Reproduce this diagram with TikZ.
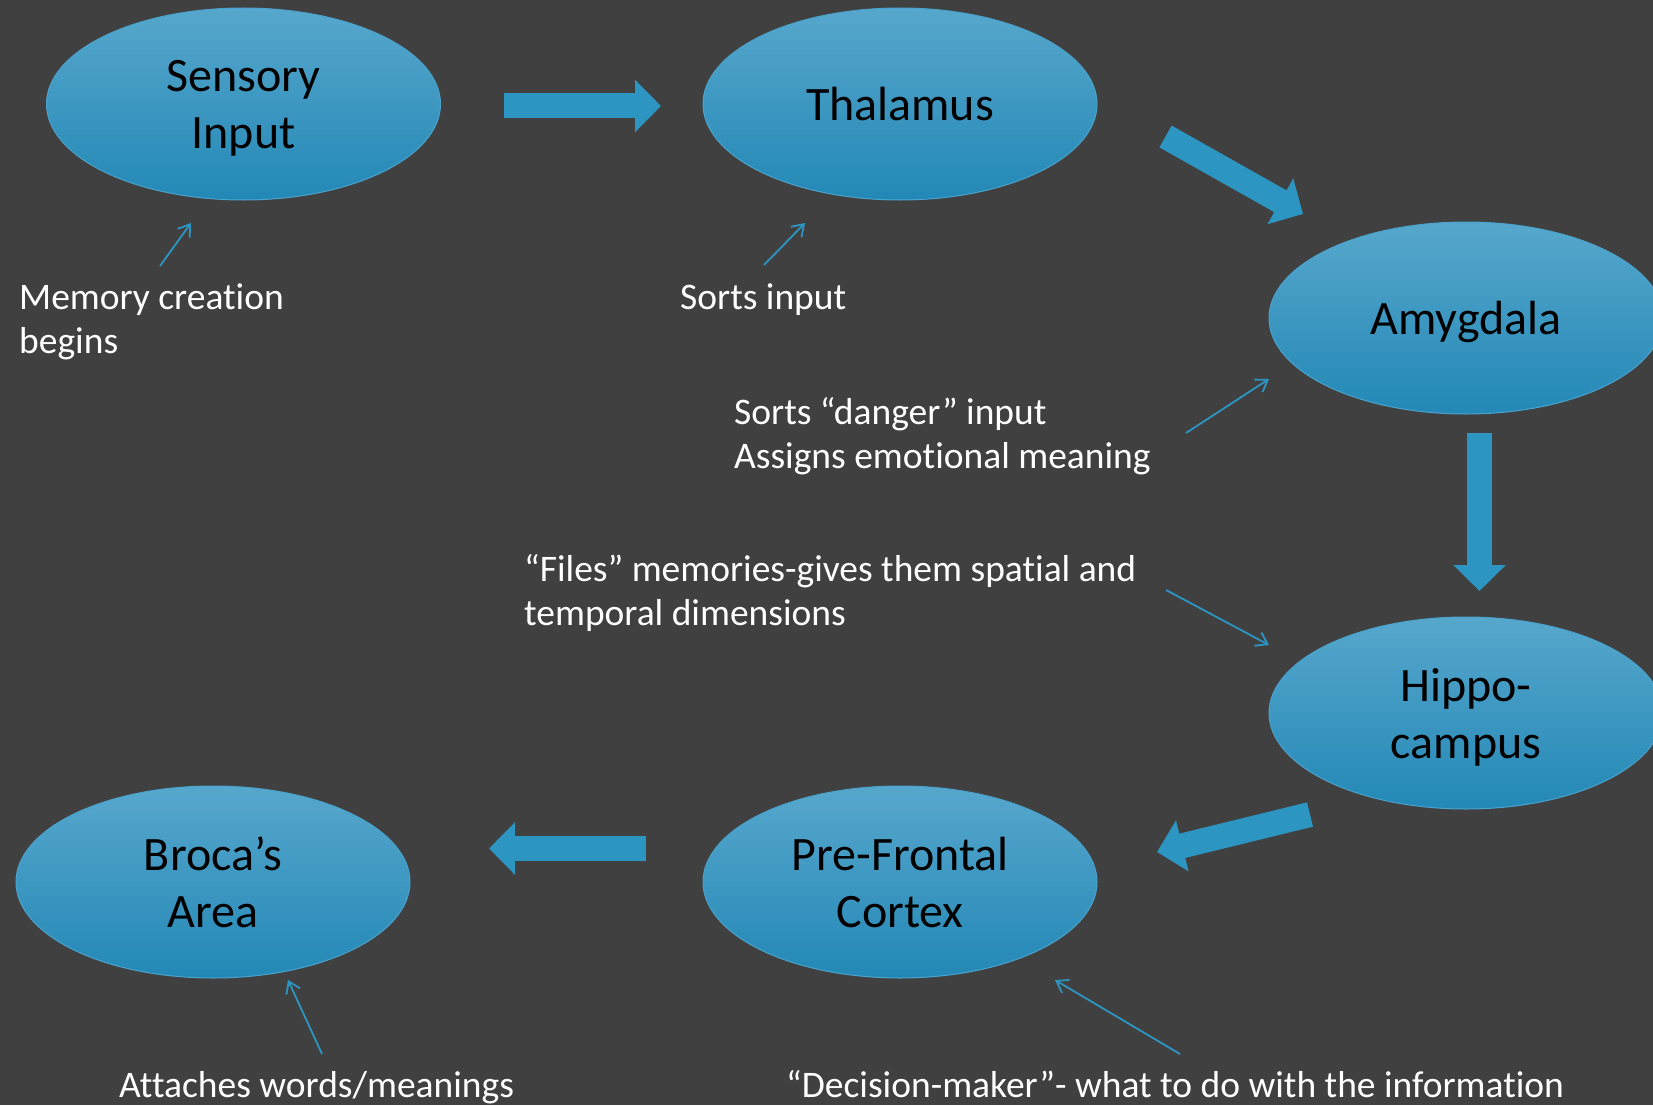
\documentclass[tikz,border=0pt]{standalone}
\usepackage{fontspec}
\setmainfont{Carlito}[Ligatures=CommonOff]
\usetikzlibrary{arrows.meta, shapes.geometric, calc}
\definecolor{mBg}{HTML}{404040}
\definecolor{mBlueTop}{HTML}{57A7CC}
\definecolor{mBlueBot}{HTML}{2388B6}
\definecolor{mBlue}{HTML}{2C95C2}
\definecolor{mEdge}{HTML}{4AA3CC}

\begin{document}
\begin{tikzpicture}[x=1pt, y=-1pt,
    region/.style={ellipse, minimum width=394pt, minimum height=192pt, inner sep=0pt,
      top color=mBlueTop, bottom color=mBlueBot, draw=mEdge, line width=1pt,
      align=center, text depth=0pt, font=\fontsize{48}{57}\selectfont},
    note/.style={anchor=base west, inner sep=0pt, align=left, text=white,
      font=\fontsize{37.5}{44}\selectfont},
    flow/.style={draw=mBlue, line width=25pt, -{Triangle[length=26pt, width=51pt]}},
    pointer/.style={draw=mBlue, line width=1.8pt, -{Straight Barb[length=11pt, width=15pt]}}]
  \fill[mBg] (0,0) rectangle (1653,1105);
  \useasboundingbox (0,0) rectangle (1653,1105);
  \clip (0,0) rectangle (1653,1105);

  % brain regions
  \node[region] (sens) at (243.5,104) {Sensory\\Input};
  \node[region] (thal) at (900,104) {Thalamus};
  \node[region] (amyg) at (1466,318) {Amygdala};
  \node[region] (hipp) at (1466,713) {Hippo-\\campus};
  \node[region] (pfc) at (900,882) {Pre-Frontal\\Cortex};
  \node[region] (broca) at (213,882) {Broca’s\\Area};

  % notes (anchored on the last line)
  \node[note] (memnote) at (19,353) {Memory creation\\begins};
  \node[note] (sortnote) at (680,309) {Sorts input};
  \node[note] (dangernote) at (734,468) {Sorts “danger” input\\Assigns emotional meaning};
  \node[note] (filesnote) at (524,625) {“Files” memories-gives them spatial and\\temporal dimensions};
  \node[note] (wordsnote) at (119,1097) {Attaches words/meanings};
  \node[note] (decisionnote) at (786,1097) {“Decision-maker”- what to do with the information};

  % pathway
  \draw[flow] ($(sens.center)+(260.5,2)$) -- ($(thal.center)+(-239,2)$);
  \draw[flow] ($(thal.center)+(265.5,32.5)$) -- ($(amyg.center)+(-163,-104)$);
  \draw[flow] ($(amyg.center)+(13.5,115)$) -- ($(hipp.center)+(13.5,-122)$);
  \draw[flow] ($(hipp.center)+(-156,101.5)$) -- ($(pfc.center)+(257,-30)$);
  \draw[flow] ($(pfc.center)+(-254,-33.5)$) -- ($(broca.center)+(276,-33.5)$);

  \draw[pointer] ($(memnote.base west)+(141,-87)$) -- ($(sens.center)+(-52.5,119)$);
  \draw[pointer] ($(sortnote.base west)+(84,-44)$) -- ($(thal.center)+(-95,119)$);
  \draw[pointer] ($(dangernote.base west)+(452,-35)$) -- ($(amyg.center)+(-197,61)$);
  \draw[pointer] ($(filesnote.base west)+(642,-35)$) -- ($(hipp.center)+(-197,-68)$);
  \draw[pointer] ($(wordsnote.base west)+(203,-43)$) -- ($(broca.center)+(75,98)$);
  \draw[pointer] ($(decisionnote.base west)+(394,-43)$) -- ($(pfc.center)+(155,98)$);
\end{tikzpicture}
\end{document}
